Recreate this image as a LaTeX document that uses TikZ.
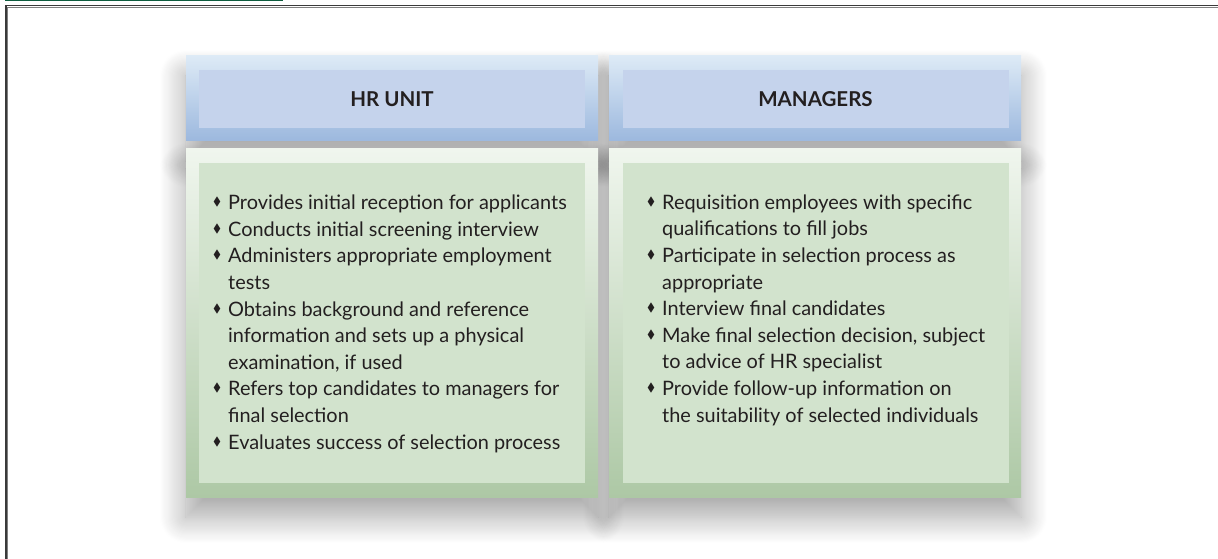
\documentclass[tikz,border=0pt]{standalone}
\usepackage{amssymb}
\usepackage{graphicx}
\usepackage{fontspec}
\setmainfont{Lato}
\usetikzlibrary{positioning, backgrounds, shadows.blur}

\definecolor{headtop}{HTML}{DDEAF6}
\definecolor{headbot}{HTML}{9CB8DE}
\definecolor{headin}{HTML}{C5D3EC}
\definecolor{bodytop}{HTML}{F0F6EE}
\definecolor{bodybot}{HTML}{ADC8A5}
\definecolor{bodyin}{HTML}{D2E3CD}
\definecolor{txt}{HTML}{231F20}
\definecolor{framegray}{HTML}{3A3A3A}
\definecolor{bargreen}{HTML}{0E5C3E}

\newlength{\bulletw}
\setlength{\bulletw}{16pt}
\newcommand{\dmd}{\makebox[\bulletw][l]{\hspace{1pt}\raisebox{0.2em}{\scalebox{0.6}{$\blacklozenge$}}}}
\newcommand{\nodmd}{\hspace*{\bulletw}}

\tikzset{
	headouter/.style={rectangle, inner sep=0pt, minimum width=412pt, minimum height=85pt,
		top color=headtop, bottom color=headbot},
	headinner/.style={rectangle, inner sep=0pt, fill=headin, minimum width=386pt, minimum height=58pt},
	headtext/.style={font=\fontsize{20.5}{24}\selectfont\bfseries, text=txt, inner sep=0pt},
	bodyouter/.style={rectangle, inner sep=0pt, minimum width=412pt, minimum height=348pt,
		top color=bodytop, bottom color=bodybot},
	bodyinner/.style={rectangle, inner sep=0pt, fill=bodyin, minimum width=386pt, minimum height=320pt},
	itemlist/.style={font=\fontsize{19.9}{26.6}\selectfont, text=txt, align=left, inner sep=0pt, anchor=base west},
	boxshadow/.style={blur shadow={shadow xshift=0pt, shadow yshift=-20pt, shadow blur radius=26pt,
		shadow blur steps=24, shadow opacity=36}}
}

\begin{document}
\begin{tikzpicture}[x=1pt,y=-1pt]
	\useasboundingbox (0,0) rectangle (1218,559);
	% Frame
	\fill[bargreen] (5,0) rectangle (283,1.5);
	\draw[framegray, line width=1.2pt] (6,559) -- (6,5.5) -- (1218,5.5);
	\draw[gray, line width=0.8pt] (7.4,559) -- (7.4,7) -- (1218,7);

	% HR unit column
	\node[headouter] (HR-head) at (392,98.5) {};
	\node[headinner] (HR-headin) at (392,99) {};
	\node[headtext] (HR-title) at (392,99) {HR UNIT};
	\node[bodyouter] (HR-body) at (392,323) {};
	\node[bodyinner] (HR-bodyin) at (392,323) {};
	% anchor is the baseline of the last line
	\node[itemlist] (HR-list) at (212,449) {%
		\dmd Provides initial reception for applicants\\
		\dmd Conducts initial screening interview\\
		\dmd Administers appropriate employment\\
		\nodmd tests\\
		\dmd Obtains background and reference\\
		\nodmd information and sets up a physical\\
		\nodmd examination, if used\\
		\dmd Refers top candidates to managers for\\
		\nodmd final selection\\
		\dmd Evaluates success of selection process};

	% Managers column
	\node[headouter] (MG-head) at (815,98.5) {};
	\node[headinner] (MG-headin) at (815.5,99) {};
	\node[headtext] (MG-title) at (815.5,99) {MANAGERS};
	\node[bodyouter] (MG-body) at (815,323) {};
	\node[bodyinner] (MG-bodyin) at (815.5,323) {};
	\node[itemlist] (MG-list) at (646,422) {%
		\dmd Requisition employees with specific\\
		\nodmd qualifications to fill jobs\\
		\dmd Participate in selection process as\\
		\nodmd appropriate\\
		\dmd Interview final candidates\\
		\dmd Make final selection decision, subject\\
		\nodmd to advice of HR specialist\\
		\dmd Provide follow-up information on\\
		\nodmd the suitability of selected individuals};

	% Shadows
	\begin{scope}[on background layer]
		\foreach \b in {HR-head, HR-body, MG-head, MG-body}
			\path[boxshadow] (\b.north west) rectangle (\b.south east);
	\end{scope}
\end{tikzpicture}
\end{document}
